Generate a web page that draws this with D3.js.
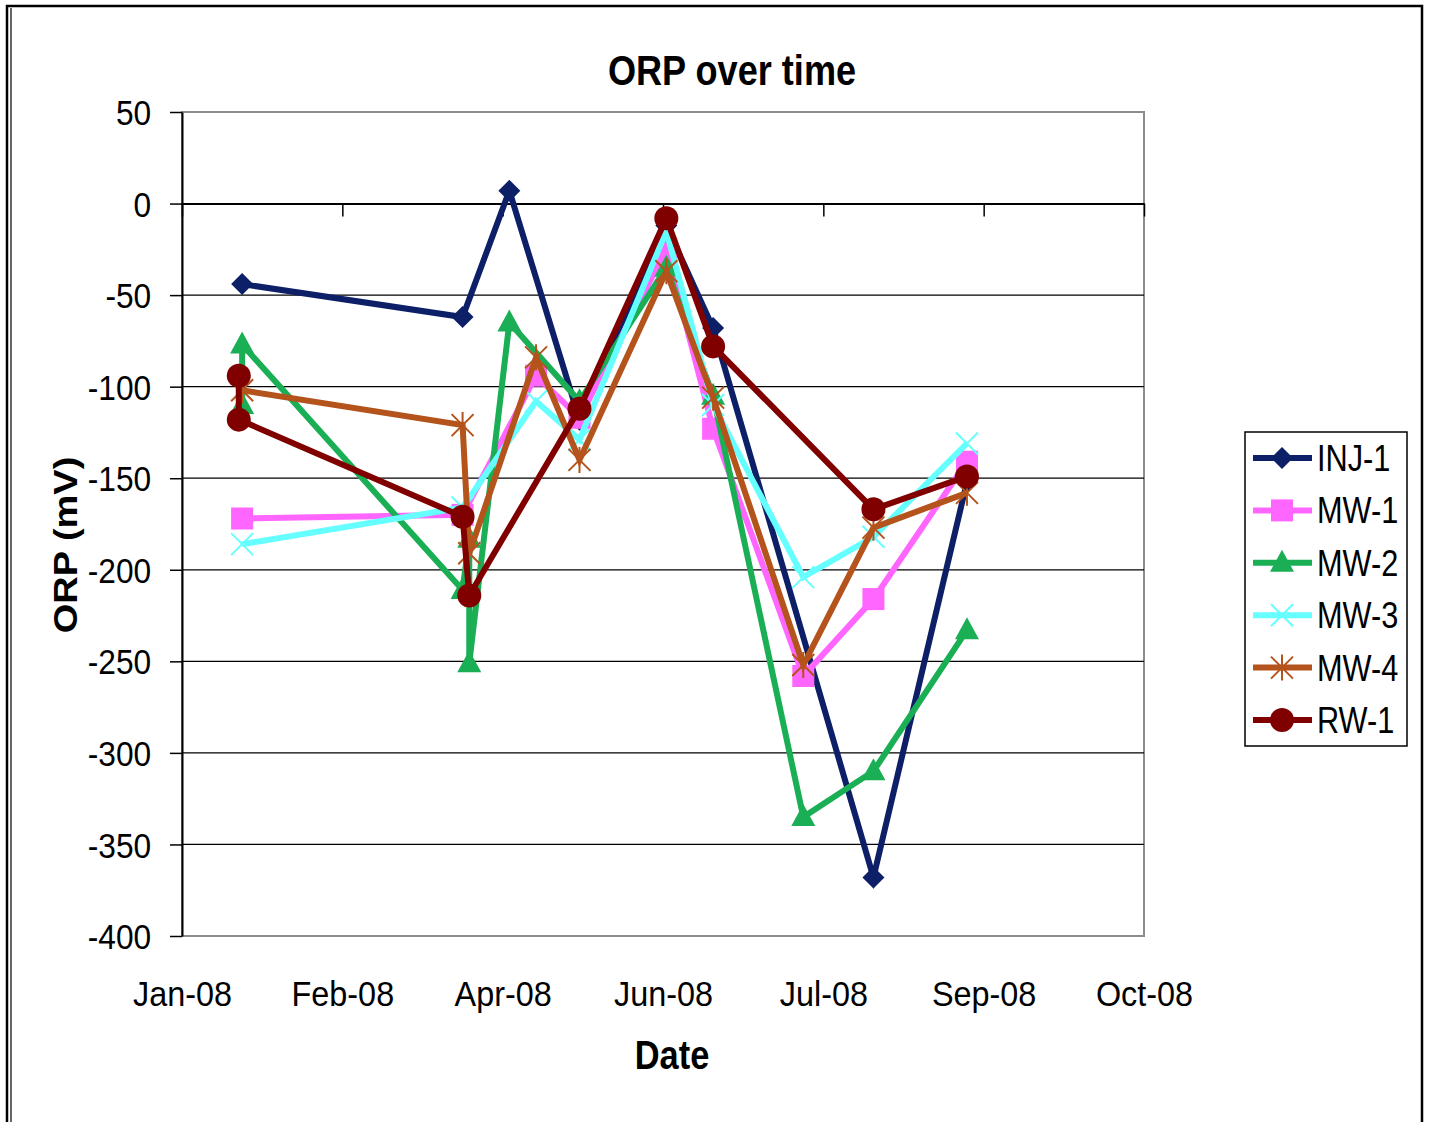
<!DOCTYPE html>
<html>
<head>
<meta charset="utf-8">
<script src="https://cdn.jsdelivr.net/npm/d3@7"></script>
<style>
  html, body { margin: 0; padding: 0; background: #fff; }
  svg { display: block; }
  text { font-family: "Liberation Sans", Arial, sans-serif; fill: #000; }
</style>
</head>
<body>
<svg id="chart" width="1429" height="1122"></svg>
<script>
// ---------- data ----------
const seriesNames = ["INJ-1", "MW-1", "MW-2", "MW-3", "MW-4", "RW-1"];

const inj1Dates  = ["2008-01-28","2008-04-03","2008-04-17","2008-05-08","2008-06-03","2008-06-17","2008-08-04","2008-09-01"];
const inj1Values = [-44, -62, 7, -118, -12, -68, -368, -152];

const mw1Dates  = ["2008-01-28","2008-04-03","2008-04-25","2008-05-08","2008-06-03","2008-06-17","2008-07-14","2008-08-04","2008-09-01"];
const mw1Values = [-172, -170, -94, -117, -25, -123, -258, -216, -141];

const mw2Dates  = ["2008-01-28","2008-01-28","2008-04-03","2008-04-05","2008-04-05","2008-04-17","2008-05-08","2008-06-03","2008-06-17","2008-07-14","2008-08-04","2008-09-01"];
const mw2Values = [-110, -77, -211, -183, -251, -65, -108, -35, -105, -335, -310, -233];

const mw3Dates  = ["2008-01-28","2008-04-03","2008-04-25","2008-05-08","2008-06-03","2008-06-17","2008-07-14","2008-08-04","2008-09-01"];
const mw3Values = [-186, -166, -108, -129, -15, -110, -204, -182, -131];

const mw4Dates  = ["2008-01-28","2008-04-03","2008-04-05","2008-04-25","2008-05-08","2008-06-03","2008-06-17","2008-07-14","2008-08-04","2008-09-01"];
const mw4Values = [-102, -121, -191, -84, -140, -37, -106, -252, -177, -158];

const rw1Dates  = ["2008-01-27","2008-01-27","2008-04-03","2008-04-05","2008-05-08","2008-06-03","2008-06-17","2008-08-04","2008-09-01"];
const rw1Values = [-94, -118, -171, -214, -112, -8, -78, -167, -149];

const yTickValues = [50, 0, -50, -100, -150, -200, -250, -300, -350, -400];
const xTickDates  = ["2008-01-10","2008-02-27","2008-04-15","2008-06-02","2008-07-20","2008-09-06","2008-10-24"];

const chartTitle = "ORP over time";
const xTitle = "Date";
const yTitle = "ORP (mV)";

// ---------- styles ----------
const colors  = ["#0d1f66", "#ff66ff", "#1aaf55", "#66ffff", "#b4531c", "#800000"];
const markers = ["diamond", "square", "triangle", "x", "asterisk", "circle"];

// ---------- setup ----------
const parse = d3.utcParse("%Y-%m-%d");
const series = seriesNames.map((name, i) => {
  const dates = [inj1Dates, mw1Dates, mw2Dates, mw3Dates, mw4Dates, rw1Dates][i];
  const vals  = [inj1Values, mw1Values, mw2Values, mw3Values, mw4Values, rw1Values][i];
  return { name, color: colors[i], marker: markers[i],
           points: dates.map((d, j) => ({ date: parse(d), value: vals[j] })) };
});

const svg = d3.select("#chart");
const pL = 182, pR = 1144, pT = 112, pB = 936;

const xTicks = xTickDates.map(parse);
const x = d3.scaleUtc().domain([xTicks[0], xTicks[xTicks.length - 1]]).range([pL, pR]);
const y = d3.scaleLinear().domain([-400, 50]).range([pB, pT]);

// outer frame
svg.append("rect").attr("x", 7).attr("y", 6).attr("width", 1415).attr("height", 1130)
  .attr("fill", "none").attr("stroke", "#000").attr("stroke-width", 2.5);
svg.append("line").attr("x1", 11).attr("x2", 11).attr("y1", 8).attr("y2", 1122)
  .attr("stroke", "#000").attr("stroke-width", 1.2);

// plot border (gray)
svg.append("rect").attr("x", pL).attr("y", pT).attr("width", pR - pL).attr("height", pB - pT)
  .attr("fill", "#fff").attr("stroke", "#8c8c8c").attr("stroke-width", 2);

// gridlines
svg.append("g").selectAll("line").data(yTickValues.filter(v => v !== 50 && v !== -400)).join("line")
  .attr("x1", pL).attr("x2", pR).attr("y1", d => y(d)).attr("y2", d => y(d))
  .attr("stroke", "#000").attr("stroke-width", 1.3);

// y axis
const yAxis = svg.append("g").attr("transform", `translate(${pL},0)`)
  .call(d3.axisLeft(y).tickValues(yTickValues).tickSize(12).tickSizeOuter(0).tickPadding(23)
        .tickFormat(d => String(d)));
yAxis.select(".domain").attr("stroke", "#000").attr("stroke-width", 2);
yAxis.selectAll(".tick line").attr("stroke", "#000").attr("stroke-width", 1.5);
yAxis.selectAll(".tick text")
  .attr("font-size", 36).attr("font-family", "Liberation Sans, Arial, sans-serif")
  .attr("dy", "0.35em").attr("transform", "scale(0.88,1)");

// x axis line at 0 with ticks downward
const xAxisZero = svg.append("g").attr("transform", `translate(0,${y(0)})`)
  .call(d3.axisBottom(x).tickValues(xTicks).tickSize(13).tickSizeOuter(0).tickFormat(""));
xAxisZero.select(".domain").attr("stroke", "#000").attr("stroke-width", 2);
xAxisZero.selectAll(".tick line").attr("stroke", "#000").attr("stroke-width", 1.5);

// x labels at bottom
const xLabels = svg.append("g").attr("transform", `translate(0,${pB})`)
  .call(d3.axisBottom(x).tickValues(xTicks).tickSize(0).tickPadding(0).tickFormat(d3.utcFormat("%b-%y")));
xLabels.select(".domain").remove();
xLabels.selectAll(".tick text")
  .attr("font-size", 36).attr("font-family", "Liberation Sans, Arial, sans-serif")
  .attr("y", 0).attr("dy", 0)
  .attr("transform", "translate(0,70) scale(0.9,1)");

// ---------- marker drawing ----------
function drawMarker(g, type, color) {
  if (type === "diamond") {
    g.append("path").attr("d", "M0,-11L11,0L0,11L-11,0Z").attr("fill", color);
  } else if (type === "square") {
    g.append("rect").attr("x", -11).attr("y", -11).attr("width", 22).attr("height", 22).attr("fill", color);
  } else if (type === "triangle") {
    g.append("path").attr("d", "M0,-13L12,9L-12,9Z").attr("fill", color);
  } else if (type === "circle") {
    g.append("circle").attr("r", 12).attr("fill", color);
  } else if (type === "x") {
    g.append("path").attr("d", "M-11,-11L11,11M-11,11L11,-11").attr("stroke", color).attr("stroke-width", 2).attr("fill", "none");
  } else if (type === "asterisk") {
    g.append("path").attr("d", "M-11,-11L11,11M-11,11L11,-11M0,-13L0,13").attr("stroke", color).attr("stroke-width", 2).attr("fill", "none");
  }
}

// ---------- series ----------
const line = d3.line().x(d => x(d.date)).y(d => y(d.value));
series.forEach(s => {
  const g = svg.append("g");
  g.append("path").datum(s.points).attr("d", line)
    .attr("fill", "none").attr("stroke", s.color).attr("stroke-width", 6)
    .attr("stroke-linejoin", "miter");
  s.points.forEach(p => {
    const m = g.append("g").attr("transform", `translate(${x(p.date)},${y(p.value)})`);
    drawMarker(m, s.marker, s.color);
  });
});

// ---------- titles ----------
svg.append("text").attr("transform", "translate(732,85) scale(0.86,1)")
  .attr("text-anchor", "middle").attr("font-size", 42).attr("font-weight", "bold").text(chartTitle);
svg.append("text").attr("transform", "translate(672,1069) scale(0.86,1)")
  .attr("text-anchor", "middle").attr("font-size", 40).attr("font-weight", "bold").text(xTitle);
svg.append("text").attr("transform", "translate(77,545) rotate(-90) scale(1,0.86)")
  .attr("text-anchor", "middle").attr("font-size", 38).attr("font-weight", "bold").text(yTitle);

// ---------- legend ----------
const lg = svg.append("g");
lg.append("rect").attr("x", 1245).attr("y", 432).attr("width", 162).attr("height", 314)
  .attr("fill", "#fff").attr("stroke", "#000").attr("stroke-width", 1.5);
series.forEach((s, i) => {
  const yy = 458 + i * 52.4;
  const item = lg.append("g");
  item.append("line").attr("x1", 1253).attr("x2", 1312).attr("y1", yy).attr("y2", yy)
    .attr("stroke", s.color).attr("stroke-width", 6);
  const m = item.append("g").attr("transform", `translate(1282,${yy})`);
  drawMarker(m, s.marker, s.color);
  item.append("text").attr("transform", `translate(1317,${yy + 13}) scale(0.83,1)`)
    .attr("font-size", 37).text(s.name);
});
</script>
</body>
</html>
